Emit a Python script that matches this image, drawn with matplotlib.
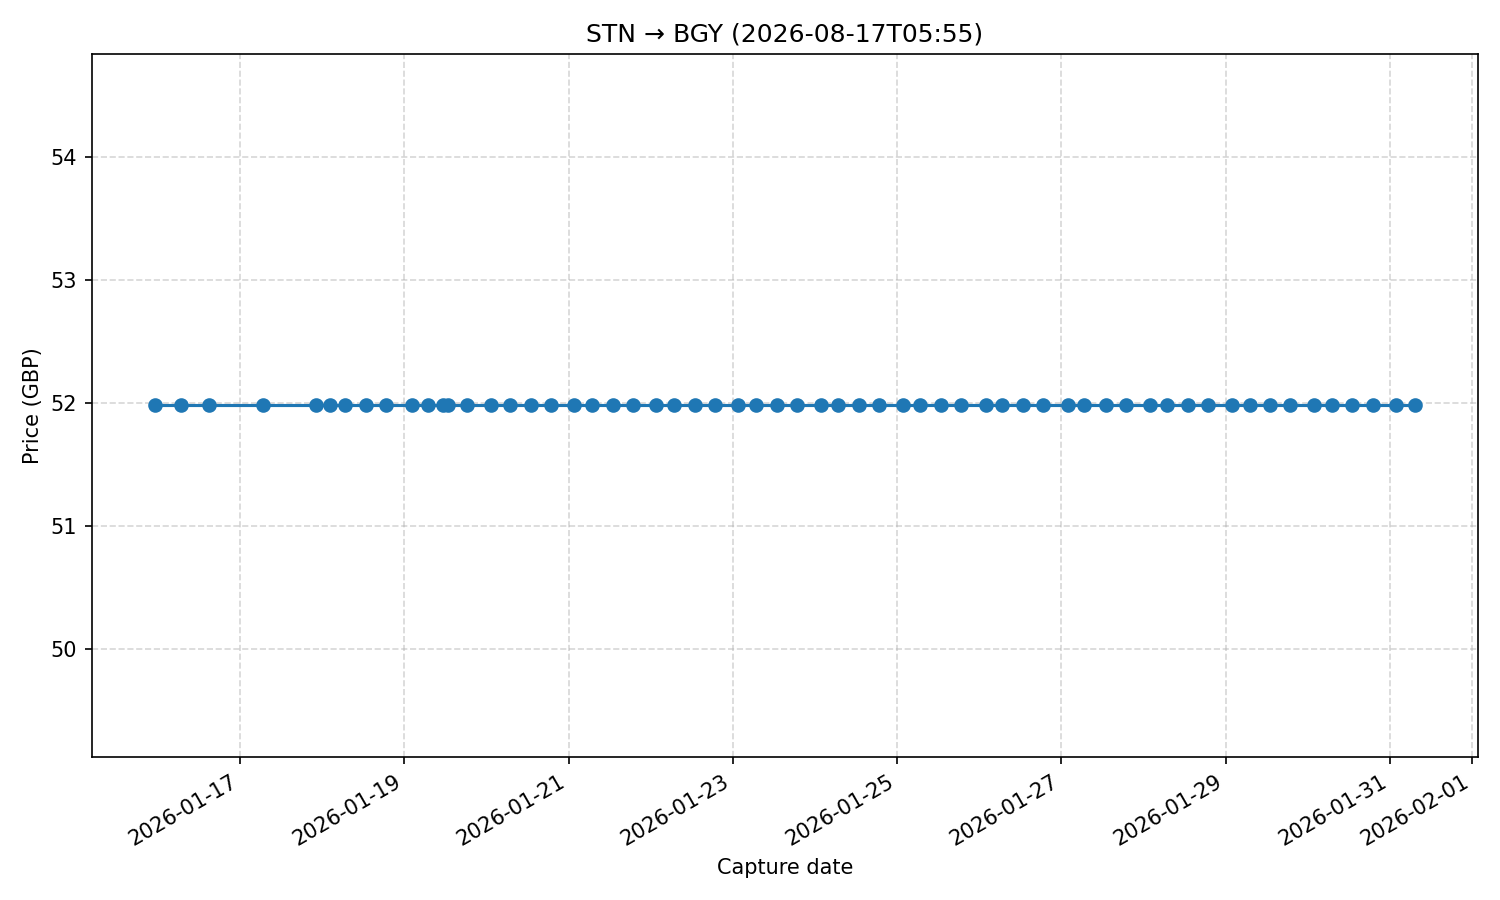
import matplotlib
matplotlib.use("Agg")
import matplotlib.pyplot as plt
import matplotlib.dates as mdates
import pandas as pd

capture_times = [
    "2026-01-15 23:07", "2026-01-16 06:43", "2026-01-16 14:56",
    "2026-01-17 06:44", "2026-01-17 22:15",
    "2026-01-18 02:21", "2026-01-18 06:44", "2026-01-18 12:53", "2026-01-18 18:44",
    "2026-01-19 02:21", "2026-01-19 07:01", "2026-01-19 11:25", "2026-01-19 12:53", "2026-01-19 18:26",
    "2026-01-20 01:28", "2026-01-20 06:44", "2026-01-20 12:53", "2026-01-20 18:44",
    "2026-01-21 01:28", "2026-01-21 06:44", "2026-01-21 12:53", "2026-01-21 18:44",
    "2026-01-22 01:28", "2026-01-22 06:44", "2026-01-22 12:53", "2026-01-22 18:44",
    "2026-01-23 01:28", "2026-01-23 06:44", "2026-01-23 12:53", "2026-01-23 18:44",
    "2026-01-24 01:50", "2026-01-24 06:44", "2026-01-24 12:53", "2026-01-24 18:44",
    "2026-01-25 01:50", "2026-01-25 06:44", "2026-01-25 12:53", "2026-01-25 18:44",
    "2026-01-26 01:50", "2026-01-26 06:44", "2026-01-26 12:53", "2026-01-26 18:44",
    "2026-01-27 01:50", "2026-01-27 06:44", "2026-01-27 12:53", "2026-01-27 19:00",
    "2026-01-28 01:50", "2026-01-28 06:58", "2026-01-28 12:53", "2026-01-28 18:44",
    "2026-01-29 01:50", "2026-01-29 07:01", "2026-01-29 12:53", "2026-01-29 18:44",
    "2026-01-30 01:50", "2026-01-30 07:01", "2026-01-30 12:53", "2026-01-30 19:00",
    "2026-01-31 01:50", "2026-01-31 07:10",
]
prices = [51.98] * len(capture_times)

dates = pd.to_datetime(capture_times)

fig, ax = plt.subplots(figsize=(10, 6), dpi=150)
ax.plot(dates, prices, marker="o", lw=1.5, color="#1f77b4")
ax.set_title("STN \u2192 BGY (2026-08-17T05:55)")
ax.set_xlabel("Capture date")
ax.set_ylabel("Price (GBP)")
ax.xaxis.set_major_formatter(mdates.DateFormatter("%Y-%m-%d"))
ax.grid(True, linestyle="--", alpha=0.5)
fig.autofmt_xdate()
fig.tight_layout()
fig.savefig("out.png", dpi=150)
